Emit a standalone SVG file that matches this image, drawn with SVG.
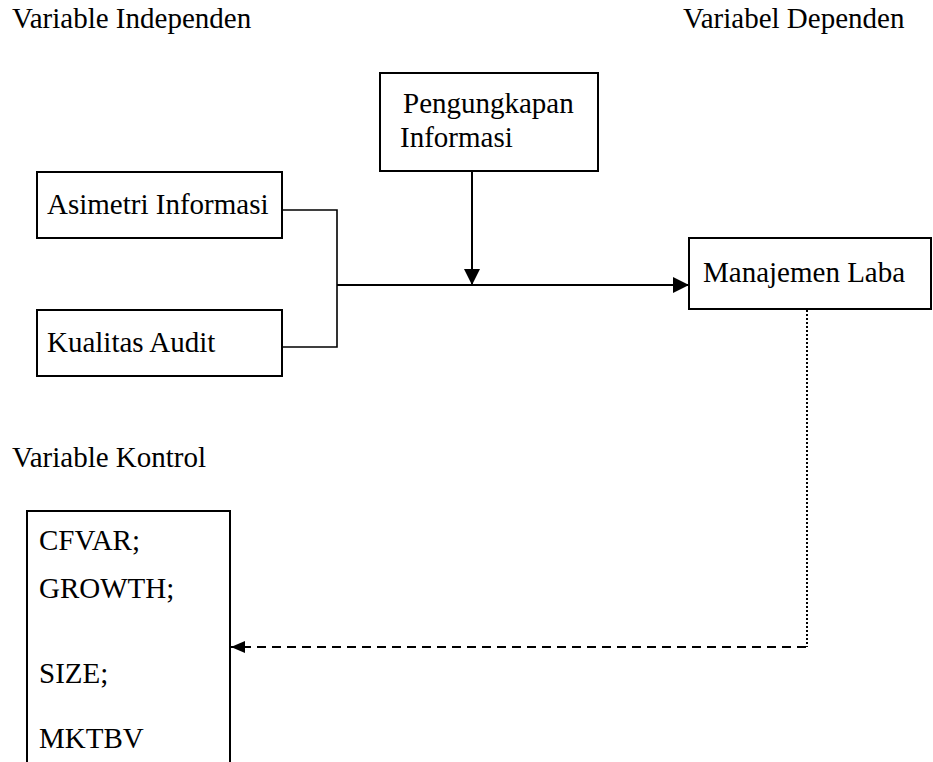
<svg xmlns="http://www.w3.org/2000/svg" width="933" height="762" viewBox="0 0 933 762">
<style>
text{font-family:"Liberation Serif","Times New Roman",serif;font-size:29px;fill:#000}
.box{fill:#fff;stroke:#000;stroke-width:2}
.ln{fill:none;stroke:#000;stroke-width:2}
.thin{fill:none;stroke:#000;stroke-width:1.6}
</style>
<defs>
<marker id="ah" viewBox="0 0 16 16" refX="16" refY="8" markerWidth="16" markerHeight="16" markerUnits="userSpaceOnUse" orient="auto">
<path d="M0,0 L16,8 L0,16 Z" fill="#000"/>
</marker>
<marker id="ahs" viewBox="0 0 14 12" refX="14" refY="6" markerWidth="14" markerHeight="12" markerUnits="userSpaceOnUse" orient="auto">
<path d="M0,0 L14,6 L0,12 Z" fill="#000"/>
</marker>
</defs>
<g id="labels">
<text x="12" y="28">Variable Independen</text>
<text x="683" y="28">Variabel Dependen</text>
<text x="12" y="467">Variable Kontrol</text>
</g>
<g id="connectors">
<path class="thin" d="M282,210 H337 V347 H282"/>
<path class="ln" d="M337,285 H689" marker-end="url(#ah)"/>
<path class="ln" d="M472,171 V285" marker-end="url(#ah)"/>
<path fill="none" stroke="#000" stroke-width="2" stroke-dasharray="2,2" d="M807,310 V647"/>
<path fill="none" stroke="#000" stroke-width="2" stroke-dasharray="9,6" d="M806,647 H231" marker-end="url(#ahs)"/>
</g>
<g id="node-pengungkapan">
<rect class="box" x="380" y="73" width="218" height="98"/>
<text x="403" y="113">Pengungkapan</text>
<text x="400" y="147">Informasi</text>
</g>
<g id="node-asimetri">
<rect class="box" x="37" y="172" width="245" height="66"/>
<text x="47" y="214">Asimetri Informasi</text>
</g>
<g id="node-kualitas">
<rect class="box" x="37" y="310" width="245" height="66"/>
<text x="47" y="352">Kualitas Audit</text>
</g>
<g id="node-manajemen">
<rect class="box" x="689" y="238" width="242" height="71"/>
<text x="703" y="282">Manajemen Laba</text>
</g>
<g id="node-kontrol">
<path class="box" d="M27,763 V511 H230 V763"/>
<text x="39" y="550">CFVAR;</text>
<text x="39" y="598">GROWTH;</text>
<text x="39" y="683">SIZE;</text>
<text x="39" y="748">MKTBV</text>
</g>
</svg>
